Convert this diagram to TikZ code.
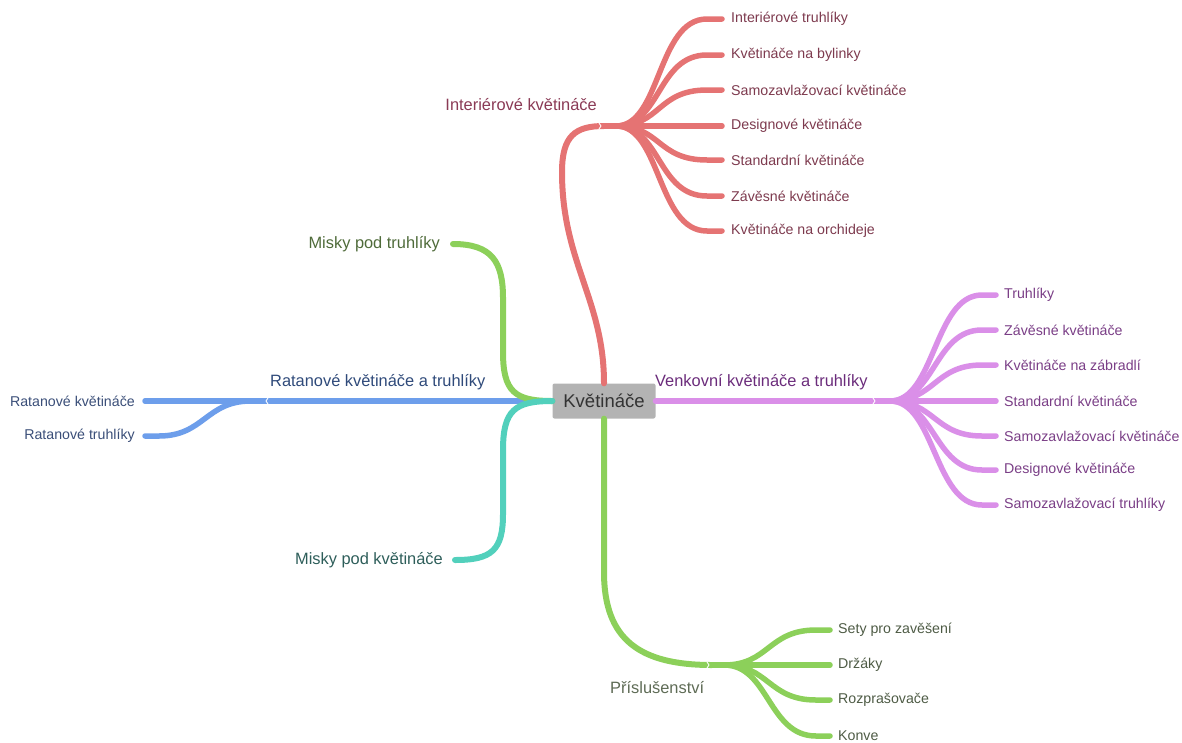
\documentclass[tikz,border=0pt]{standalone}
\usepackage{fontspec}
\setmainfont{Liberation Sans}
\definecolor{cred}{HTML}{E57373}
\definecolor{cviolet}{HTML}{DA8FE8}
\definecolor{cgreen}{HTML}{8CD05A}
\definecolor{cteal}{HTML}{52D0BC}
\definecolor{cblue}{HTML}{6D9EEB}
\definecolor{rootfill}{HTML}{B3B3B3}
\definecolor{troot}{HTML}{333333}
\definecolor{tred}{HTML}{7D3A4E}
\definecolor{tredm}{HTML}{8A3A55}
\definecolor{tviolet}{HTML}{7A3E86}
\definecolor{tvioletm}{HTML}{6B2C7B}
\definecolor{tgreen}{HTML}{4E5B45}
\definecolor{tgreenm}{HTML}{5E6B55}
\definecolor{tmisky}{HTML}{4F6B3A}
\definecolor{tteal}{HTML}{2E5E5A}
\definecolor{tblue}{HTML}{3A4E78}
\definecolor{tbluem}{HTML}{2F4A7A}
\begin{document}
\begin{tikzpicture}[x=1pt,y=-1pt,
  mainline/.style={line width=6pt, line cap=round},
  subline/.style={line width=5.5pt, line cap=round},
  lbl/.style={inner sep=0pt, font=\fontsize{14.2}{16}\selectfont},
  mlbl/.style={inner sep=0pt, font=\fontsize{16.4}{18}\selectfont},
  rootbox/.style={fill=rootfill, rounded corners=2pt, minimum width=103pt, minimum height=35pt, inner sep=0pt, text=troot, font=\fontsize{18.5}{20}\selectfont},
  chev/.style={white, line width=0.9pt, line cap=round, line join=round}]
\useasboundingbox (0,0) rectangle (1182,742);

% root
\node[rootbox] (root) at (604,401) {Květináče};

% hubs
\coordinate (th) at (604,126);
\coordinate (rh) at (878,401);
\coordinate (bh) at (712,665);
\coordinate (lh) at (263,401);

% main labels
\node[mlbl, anchor=east, text=tredm] (tl) at (597,105) {Interiérové květináče};
\node[mlbl, anchor=west, text=tvioletm] (rl) at (655,382) {Venkovní květináče a truhlíky};
\node[mlbl, anchor=west, text=tgreenm] (bl) at (610,688) {Příslušenství};
\node[mlbl, anchor=west, text=tbluem] (ll) at (270,382) {Ratanové květináče a truhlíky};
\node[mlbl, anchor=east, text=tmisky] (mt) at (440,244) {Misky pod truhlíky};
\node[mlbl, anchor=east, text=tteal] (mk) at (443,560) {Misky pod květináče};

% top children
\node[lbl, anchor=west, text=tred] (t1) at (731,19) {Interiérové truhlíky};
\node[lbl, anchor=west, text=tred] (t2) at (731,55) {Květináče na bylinky};
\node[lbl, anchor=west, text=tred] (t3) at (731,90) {Samozavlažovací květináče};
\node[lbl, anchor=west, text=tred] (t4) at (731,126) {Designové květináče};
\node[lbl, anchor=west, text=tred] (t5) at (731,160) {Standardní květináče};
\node[lbl, anchor=west, text=tred] (t6) at (731,196) {Závěsné květináče};
\node[lbl, anchor=west, text=tred] (t7) at (731,231) {Květináče na orchideje};

% right children
\node[lbl, anchor=west, text=tviolet] (r1) at (1004,295) {Truhlíky};
\node[lbl, anchor=west, text=tviolet] (r2) at (1004,330) {Závěsné květináče};
\node[lbl, anchor=west, text=tviolet] (r3) at (1004,365) {Květináče na zábradlí};
\node[lbl, anchor=west, text=tviolet] (r4) at (1004,401) {Standardní květináče};
\node[lbl, anchor=west, text=tviolet] (r5) at (1004,436) {Samozavlažovací květináče};
\node[lbl, anchor=west, text=tviolet] (r6) at (1004,470) {Designové květináče};
\node[lbl, anchor=west, text=tviolet] (r7) at (1004,505) {Samozavlažovací truhlíky};

% bottom children
\node[lbl, anchor=west, text=tgreen] (b1) at (838,630) {Sety pro zavěšení};
\node[lbl, anchor=west, text=tgreen] (b2) at (838,665) {Držáky};
\node[lbl, anchor=west, text=tgreen] (b3) at (838,700) {Rozprašovače};
\node[lbl, anchor=west, text=tgreen] (b4) at (838,736) {Konve};

% left children
\node[lbl, anchor=east, text=tblue] (l1) at (135,401) {Ratanové květináče};
\node[lbl, anchor=east, text=tblue] (l2) at (135,436) {Ratanové truhlíky};

% main connectors
\draw[mainline, cred] (root.north) .. controls (604,300) and (562,262) .. (562,172)
  .. controls (562,136) and (575,126) .. (th);
\draw[mainline, cviolet] (root.east) -- (rh);
\draw[mainline, cgreen] (root.south) -- (604,572) .. controls (604,640) and (640,665) .. (bh);
\draw[mainline, cblue] (root.west) -- (lh);
\draw[mainline, cgreen] (root.west) .. controls (515,401) and (503,392) .. (503,352)
  -- (503,298) .. controls (503,262) and (492,244) .. ([xshift=13pt]mt.east);
\draw[mainline, cteal] (root.west) .. controls (515,401) and (503,410) .. (503,450)
  -- (503,514) .. controls (503,550) and (492,560) .. ([xshift=12pt]mk.east);

% child connectors
\foreach \n in {t1,t2,t3,t4,t5,t6,t7}
  \draw[subline, cred] (th) -- ++(12,0) .. controls +(45,0) and +(-50,0) .. ([xshift=-24pt]\n.west) -- ([xshift=-9pt]\n.west);
\foreach \n in {r1,r2,r3,r4,r5,r6,r7}
  \draw[subline, cviolet] (rh) -- ++(12,0) .. controls +(45,0) and +(-48,0) .. ([xshift=-22pt]\n.west) -- ([xshift=-8pt]\n.west);
\foreach \n in {b1,b2,b3,b4}
  \draw[subline, cgreen] (bh) -- ++(12,0) .. controls +(45,0) and +(-48,0) .. ([xshift=-22pt]\n.west) -- ([xshift=-8pt]\n.west);
\foreach \n in {l1,l2}
  \draw[subline, cblue] (lh) -- ++(-12,0) .. controls +(-45,0) and +(45,0) .. ([xshift=24pt]\n.east) -- ([xshift=10pt]\n.east);

% small junction chevrons
\draw[chev] ([xshift=-5pt,yshift=3pt]th) -- ([xshift=-3pt]th) -- ([xshift=-5pt,yshift=-3pt]th);
\draw[chev] ([xshift=-5pt,yshift=3pt]rh) -- ([xshift=-3pt]rh) -- ([xshift=-5pt,yshift=-3pt]rh);
\draw[chev] ([xshift=-5pt,yshift=3pt]bh) -- ([xshift=-3pt]bh) -- ([xshift=-5pt,yshift=-3pt]bh);
\draw[chev] ([xshift=5pt,yshift=3pt]lh) -- ([xshift=3pt]lh) -- ([xshift=5pt,yshift=-3pt]lh);
\end{tikzpicture}
\end{document}
